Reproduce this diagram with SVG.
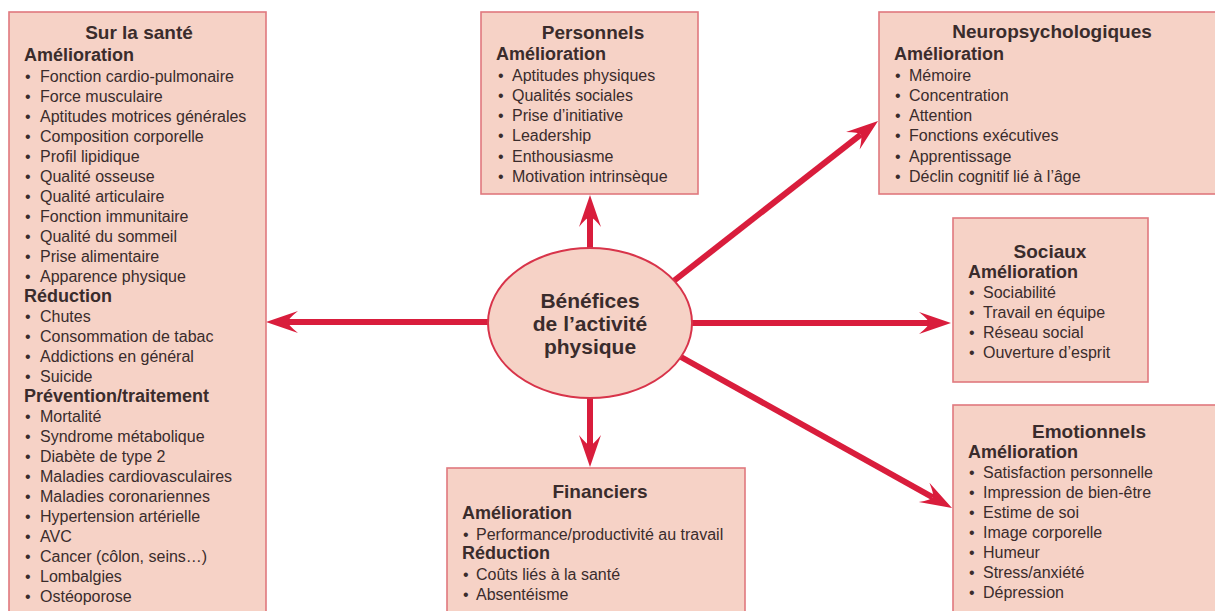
<svg xmlns="http://www.w3.org/2000/svg" width="1215" height="611" viewBox="0 0 1215 611">
<style>
.box{fill:#f6d2c6;stroke:#e0787e;stroke-width:1.6}
.ell{fill:#f6d2c6;stroke:#d8344a;stroke-width:2}
text{font-family:"Liberation Sans",Arial,sans-serif;fill:#3a2c2c}
.t{font-size:19px;font-weight:bold;text-anchor:middle}
.h{font-size:18px;font-weight:bold}
.i{font-size:16px}
.c{font-size:21px;font-weight:bold;text-anchor:middle}
.arr{stroke:#d91d3c;stroke-width:6;fill:none;marker-end:url(#ah)}
</style>
<defs>
<marker id="ah" markerUnits="userSpaceOnUse" viewBox="-12 -13 36 26" markerWidth="36" markerHeight="26" refX="0" refY="0" orient="auto">
<path d="M22,0 L-10,-11 Q0,-3 0,0 Q0,3 -10,11 Z" fill="#d91d3c"/>
</marker>
</defs>
<g id="connectors">
<line class="arr" x1="500" y1="322" x2="288" y2="322"/>
<line class="arr" x1="590" y1="256" x2="590" y2="217"/>
<line class="arr" x1="590" y1="390" x2="590" y2="445"/>
<line class="arr" x1="680" y1="323" x2="929" y2="323"/>
<line class="arr" x1="666" y1="287" x2="860.7" y2="134.6"/>
<line class="arr" x1="672" y1="352" x2="932.8" y2="497.3"/>
</g>
<g id="center">
<ellipse class="ell" cx="590" cy="323" rx="102" ry="75"/>
<text class="c" x="590" y="308">Bénéfices</text>
<text class="c" x="590" y="331">de l’activité</text>
<text class="c" x="590" y="354">physique</text>
</g>
<g id="sante">
<rect class="box" x="9" y="12" width="257" height="610"/>
<text class="t" x="139" y="39">Sur la santé</text>
<text class="h" x="24" y="61">Amélioration</text>
<g class="i">
<text x="25" y="82">• <tspan x="40">Fonction cardio-pulmonaire</tspan></text>
<text x="25" y="102">• <tspan x="40">Force musculaire</tspan></text>
<text x="25" y="122">• <tspan x="40">Aptitudes motrices générales</tspan></text>
<text x="25" y="142">• <tspan x="40">Composition corporelle</tspan></text>
<text x="25" y="162">• <tspan x="40">Profil lipidique</tspan></text>
<text x="25" y="182">• <tspan x="40">Qualité osseuse</tspan></text>
<text x="25" y="202">• <tspan x="40">Qualité articulaire</tspan></text>
<text x="25" y="222">• <tspan x="40">Fonction immunitaire</tspan></text>
<text x="25" y="242">• <tspan x="40">Qualité du sommeil</tspan></text>
<text x="25" y="262">• <tspan x="40">Prise alimentaire</tspan></text>
<text x="25" y="282">• <tspan x="40">Apparence physique</tspan></text>
</g>
<text class="h" x="24" y="302">Réduction</text>
<g class="i">
<text x="25" y="322">• <tspan x="40">Chutes</tspan></text>
<text x="25" y="342">• <tspan x="40">Consommation de tabac</tspan></text>
<text x="25" y="362">• <tspan x="40">Addictions en général</tspan></text>
<text x="25" y="382">• <tspan x="40">Suicide</tspan></text>
</g>
<text class="h" x="24" y="402">Prévention/traitement</text>
<g class="i">
<text x="25" y="422">• <tspan x="40">Mortalité</tspan></text>
<text x="25" y="442">• <tspan x="40">Syndrome métabolique</tspan></text>
<text x="25" y="462">• <tspan x="40">Diabète de type 2</tspan></text>
<text x="25" y="482">• <tspan x="40">Maladies cardiovasculaires</tspan></text>
<text x="25" y="502">• <tspan x="40">Maladies coronariennes</tspan></text>
<text x="25" y="522">• <tspan x="40">Hypertension artérielle</tspan></text>
<text x="25" y="542">• <tspan x="40">AVC</tspan></text>
<text x="25" y="562">• <tspan x="40">Cancer (côlon, seins…)</tspan></text>
<text x="25" y="582">• <tspan x="40">Lombalgies</tspan></text>
<text x="25" y="602">• <tspan x="40">Ostéoporose</tspan></text>
</g>
</g>
<g id="personnels">
<rect class="box" x="481" y="12" width="217" height="182"/>
<text class="t" x="593" y="39">Personnels</text>
<text class="h" x="496" y="60">Amélioration</text>
<g class="i">
<text x="498" y="81">• <tspan x="512">Aptitudes physiques</tspan></text>
<text x="498" y="101">• <tspan x="512">Qualités sociales</tspan></text>
<text x="498" y="121">• <tspan x="512">Prise d’initiative</tspan></text>
<text x="498" y="141">• <tspan x="512">Leadership</tspan></text>
<text x="498" y="162">• <tspan x="512">Enthousiasme</tspan></text>
<text x="498" y="182">• <tspan x="512">Motivation intrinsèque</tspan></text>
</g>
</g>
<g id="neuro">
<rect class="box" x="879" y="12" width="350" height="182"/>
<text class="t" x="1052" y="38">Neuropsychologiques</text>
<text class="h" x="894" y="60">Amélioration</text>
<g class="i">
<text x="895" y="81">• <tspan x="909">Mémoire</tspan></text>
<text x="895" y="101">• <tspan x="909">Concentration</tspan></text>
<text x="895" y="121">• <tspan x="909">Attention</tspan></text>
<text x="895" y="141">• <tspan x="909">Fonctions exécutives</tspan></text>
<text x="895" y="162">• <tspan x="909">Apprentissage</tspan></text>
<text x="895" y="182">• <tspan x="909">Déclin cognitif lié à l’âge</tspan></text>
</g>
</g>
<g id="sociaux">
<rect class="box" x="953" y="218" width="195" height="164"/>
<text class="t" x="1050" y="258">Sociaux</text>
<text class="h" x="968" y="278">Amélioration</text>
<g class="i">
<text x="969" y="298">• <tspan x="983">Sociabilité</tspan></text>
<text x="969" y="318">• <tspan x="983">Travail en équipe</tspan></text>
<text x="969" y="338">• <tspan x="983">Réseau social</tspan></text>
<text x="969" y="358">• <tspan x="983">Ouverture d’esprit</tspan></text>
</g>
</g>
<g id="emotionnels">
<rect class="box" x="953" y="405" width="280" height="220"/>
<text class="t" x="1089" y="438">Emotionnels</text>
<text class="h" x="968" y="458">Amélioration</text>
<g class="i">
<text x="969" y="478">• <tspan x="983">Satisfaction personnelle</tspan></text>
<text x="969" y="498">• <tspan x="983">Impression de bien-être</tspan></text>
<text x="969" y="518">• <tspan x="983">Estime de soi</tspan></text>
<text x="969" y="538">• <tspan x="983">Image corporelle</tspan></text>
<text x="969" y="558">• <tspan x="983">Humeur</tspan></text>
<text x="969" y="578">• <tspan x="983">Stress/anxiété</tspan></text>
<text x="969" y="598">• <tspan x="983">Dépression</tspan></text>
</g>
</g>
<g id="financiers">
<rect class="box" x="447" y="468" width="298" height="160"/>
<text class="t" x="600" y="498">Financiers</text>
<text class="h" x="462" y="519">Amélioration</text>
<text class="i" x="463" y="540">• <tspan x="476">Performance/productivité au travail</tspan></text>
<text class="h" x="462" y="559">Réduction</text>
<text class="i" x="463" y="580">• <tspan x="476">Coûts liés à la santé</tspan></text>
<text class="i" x="463" y="600">• <tspan x="476">Absentéisme</tspan></text>
</g>
</svg>
